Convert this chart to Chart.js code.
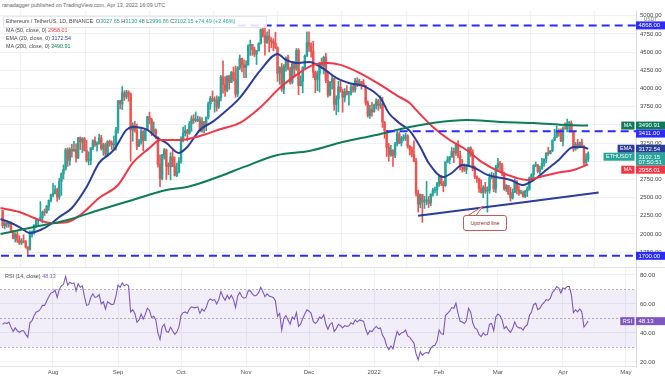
<!DOCTYPE html>
<html>
<head>
<meta charset="utf-8">
<script src="https://cdn.jsdelivr.net/npm/chart.js@4.4.0/dist/chart.umd.min.js"></script>
<style>
    body { margin: 0; background: #fff; }
    #wrap { position: relative; width: 665px; height: 378px; overflow: hidden; background: #fff;
            font-family: 'Liberation Sans', Arial, sans-serif; }
    #price-chart { position: absolute; left: 0; top: 11px; }
    #rsi-chart { position: absolute; left: 0; top: 268px; }
    .txt { position: absolute; white-space: nowrap; font-size: 5.4px; line-height: 7px; color: #4a4a4a; }
    .sep { position: absolute; left: 0; width: 665px; height: 1px; background: #e0e3eb; }
    #head-box { position: absolute; left: 3px; top: 16px; width: 262px; height: 10px; border: 1px solid #e6e8ee; background: rgba(255,255,255,0.85); }
    #callout { position: absolute; left: 463px; top: 215px; width: 42px; height: 14px; border: 1px solid #c25b57;
               border-radius: 3px; background: #fff; color: #8c2d2a; font-size: 5.4px; line-height: 14px; text-align: center; }
    #tail { position: absolute; left: 0; top: 0; }
</style>
</head>
<body>
<div id="wrap">
    <canvas id="price-chart" width="665" height="257"></canvas>
    <canvas id="rsi-chart" width="665" height="110"></canvas>
    <div class="sep" style="top:267px"></div>

    <div class="txt" style="left:2px;top:2px;color:#666">ranadagger published on TradingView.com, Apr 13, 2022 16:09 UTC</div>
    <div id="head-box"></div>
    <div class="txt" style="left:6px;top:18px">Ethereum / TetherUS, 1D, BINANCE&nbsp;
        O<span style="color:#26a69a">3027.65</span> H<span style="color:#26a69a">3130.48</span>
        L<span style="color:#26a69a">2996.86</span> C<span style="color:#26a69a">3102.15 +74.49 (+2.46%)</span></div>
    <div class="txt" style="left:6px;top:26.5px">MA (50, close, 0) <span style="color:#f23645">2958.01</span></div>
    <div class="txt" style="left:6px;top:34.5px">EMA (20, close, 0) <span style="color:#2a3d99">3172.54</span></div>
    <div class="txt" style="left:6px;top:42.5px">MA (200, close, 0) <span style="color:#0e7c5a">3490.91</span></div>
    <div class="txt" style="left:5px;top:272.5px">RSI (14, close) <span style="color:#7e57c2">48.13</span></div>

    <svg id="tail" width="665" height="378">
        <path d="M468 215.5 L483 206 L476 215.5" fill="#fff" stroke="#c25b57" stroke-width="1"/>
    </svg>
    <div id="callout">Uptrend line</div>
</div>
<script>
// daily candles, first one on startDate
const startDate = '2021-07-08';
const opens = [
    // Jul
    2322, 2114, 2148, 2137, 2156, 2040, 1941, 1994, 1916, 1876, 1897, 1894, 1820, 1787, 1994, 2025, 2124, 2188, 2190, 2232, 2300, 2298, 2381, 2462,
    // Aug
    2535, 2556, 2608, 2508, 2725, 2827, 2890, 3157, 3012, 3163, 3141, 3164, 3047, 3322, 3266, 3310, 3150, 3013, 3016, 3184, 3285, 3225, 3244, 3322, 3174, 3225, 3100, 3270, 3245, 3225, 3232,
    // Sep
    3430, 3830, 3788, 3938, 3887, 3950, 3925, 3430, 3496, 3425, 3210, 3265, 3408, 3285, 3430, 3610, 3570, 3397, 3432, 3330, 2960, 2760, 3078, 3155, 2930, 2925, 3062, 2935, 2807, 2850,
    // Oct
    3000, 3308, 3390, 3418, 3385, 3518, 3585, 3560, 3562, 3575, 3415, 3545, 3490, 3605, 3790, 3865, 3830, 3845, 3745, 3875, 4155, 4055, 3975, 4170, 4085, 4220, 4130, 3925, 4285, 4415, 4325,
    // Nov
    4290, 4325, 4590, 4605, 4535, 4475, 4520, 4620, 4810, 4730, 4630, 4720, 4665, 4645, 4625, 4560, 4210, 4290, 3990, 4300, 4420, 4270, 4085, 4340, 4270, 4525, 4040, 4100, 4295, 4445,
    // Dec
    4630, 4585, 4510, 4225, 4120, 4200, 4350, 4310, 4430, 4110, 3910, 4085, 4135, 3780, 3860, 4020, 3960, 3880, 3960, 3925, 3940, 4020, 3980, 4110, 4045, 4095, 4065, 4040, 3800, 3630, 3710,
    // Jan
    3680, 3770, 3830, 3765, 3790, 3540, 3420, 3195, 3085, 3150, 3080, 3240, 3375, 3250, 3310, 3330, 3350, 3210, 3165, 3095, 3000, 2560, 2410, 2540, 2440, 2460, 2465, 2425, 2545, 2600, 2605,
    // Feb
    2690, 2795, 2690, 2665, 2990, 3020, 3060, 3135, 3120, 3240, 3075, 2930, 2915, 2880, 2935, 3185, 3125, 2890, 2785, 2760, 2625, 2570, 2640, 2590, 2600, 2775, 2780, 2620,
    // Mar
    2920, 2970, 2950, 2835, 2620, 2665, 2555, 2495, 2575, 2730, 2605, 2560, 2570, 2515, 2590, 2620, 2770, 2815, 2945, 2950, 2860, 2895, 2970, 3030, 3110, 3105, 3145, 3290, 3330, 3400, 3385,
    // Apr
    3280, 3455, 3445, 3520, 3522, 3410, 3170, 3235, 3190, 3260, 3210, 2980, 3027.65
];
const highs = [
    2324, 2185, 2188, 2160, 2166, 2050, 2018, 2030, 1974, 1938, 1990, 1911, 1827, 2044, 2044, 2130, 2215, 2199, 2446, 2317, 2345, 2395, 2468, 2550,
    2698, 2665, 2630, 2764, 2840, 2950, 3177, 3185, 3185, 3232, 3275, 3238, 3330, 3334, 3325, 3328, 3288, 3130, 3188, 3293, 3335, 3268, 3373, 3357, 3248, 3250, 3285, 3290, 3280, 3345, 3465,
    3838, 3840, 4027, 3970, 3975, 3970, 3940, 3530, 3550, 3510, 3300, 3450, 3423, 3440, 3620, 3675, 3590, 3540, 3445, 3340, 3090, 3095, 3175, 3170, 2980, 3118, 3150, 3060, 2975, 3050,
    3340, 3470, 3492, 3440, 3547, 3625, 3640, 3678, 3620, 3612, 3600, 3550, 3610, 3815, 3895, 3965, 3885, 3900, 3890, 4180, 4380, 4165, 4175, 4185, 4235, 4295, 4310, 4300, 4460, 4420, 4395,
    4380, 4600, 4665, 4610, 4570, 4525, 4630, 4820, 4840, 4868, 4780, 4810, 4700, 4685, 4775, 4575, 4300, 4345, 4330, 4435, 4460, 4295, 4375, 4370, 4550, 4550, 4175, 4300, 4465, 4780,
    4778, 4630, 4650, 4240, 4240, 4355, 4420, 4445, 4485, 4230, 4100, 4175, 4140, 3900, 4100, 4100, 3990, 4000, 4040, 3960, 4050, 4050, 4140, 4150, 4130, 4100, 4125, 4045, 3830, 3770, 3810,
    3785, 3860, 3850, 3900, 3880, 3545, 3425, 3245, 3220, 3160, 3260, 3415, 3400, 3345, 3365, 3385, 3365, 3215, 3200, 3280, 3040, 2605, 2550, 2545, 2520, 2725, 2515, 2555, 2630, 2645, 2710,
    2815, 2805, 2725, 2995, 3065, 3065, 3190, 3180, 3250, 3285, 3140, 3025, 2965, 2955, 3190, 3200, 3160, 2935, 2800, 2770, 2745, 2665, 2710, 2650, 2830, 2850, 2835, 2945,
    3040, 3000, 2970, 2850, 2680, 2670, 2640, 2620, 2760, 2730, 2665, 2605, 2595, 2600, 2650, 2785, 2830, 2950, 2990, 2955, 2935, 3040, 3035, 3120, 3195, 3150, 3295, 3440, 3485, 3445, 3445,
    3475, 3530, 3580, 3550, 3555, 3415, 3260, 3300, 3265, 3305, 3215, 3105, 3130.48
];
const lows = [
    2086, 2071, 2091, 2095, 2020, 1934, 1890, 1883, 1857, 1854, 1878, 1804, 1718, 1777, 1955, 1998, 2092, 2120, 2180, 2154, 2255, 2285, 2325, 2440,
    2510, 2551, 2450, 2475, 2530, 2756, 2878, 2930, 2945, 3055, 3135, 2987, 3035, 3160, 3120, 3140, 2990, 2950, 2952, 3160, 3205, 3138, 3234, 3152, 3082, 3065, 3060, 3205, 3160, 3167, 3152,
    3385, 3720, 3710, 3835, 3860, 3825, 3000, 3275, 3400, 3160, 3202, 3234, 3145, 3280, 3420, 3515, 3352, 3366, 3310, 2920, 2650, 2742, 3030, 2750, 2815, 2743, 2926, 2795, 2788, 2840,
    2975, 3265, 3346, 3280, 3370, 3412, 3520, 3540, 3545, 3405, 3400, 3385, 3420, 3580, 3715, 3820, 3675, 3690, 3725, 3830, 3935, 3890, 3955, 3990, 4080, 4105, 3880, 3890, 4260, 4230, 4150,
    4150, 4320, 4455, 4455, 4440, 4330, 4515, 4610, 4705, 4460, 4620, 4505, 4560, 4520, 4550, 4100, 4060, 3960, 3930, 4240, 4255, 4060, 4065, 4160, 4250, 3915, 4035, 3940, 4280, 4440,
    4510, 4430, 4150, 3940, 3970, 3950, 4270, 4200, 4080, 3880, 3900, 3990, 3700, 3640, 3680, 3950, 3675, 3815, 3910, 3770, 3910, 3950, 3950, 4025, 4035, 3990, 4030, 3770, 3605, 3590, 3620,
    3676, 3720, 3700, 3725, 3465, 3315, 3065, 3000, 3065, 2930, 3050, 3210, 3240, 3210, 3280, 3285, 3180, 3085, 3060, 2995, 2520, 2300, 2360, 2160, 2350, 2400, 2360, 2390, 2520, 2565, 2530,
    2655, 2665, 2580, 2655, 2980, 2965, 3050, 2980, 3080, 3050, 2880, 2850, 2860, 2830, 2930, 3065, 2870, 2760, 2710, 2570, 2560, 2500, 2560, 2300, 2560, 2760, 2580, 2570,
    2860, 2870, 2800, 2600, 2585, 2540, 2450, 2480, 2570, 2550, 2530, 2550, 2505, 2500, 2515, 2600, 2760, 2730, 2925, 2840, 2830, 2890, 2930, 2980, 3080, 3100, 3130, 3285, 3330, 3345, 3270,
    3210, 3440, 3405, 3400, 3400, 3135, 3150, 3170, 3185, 3195, 2950, 2955, 2996.86
];
const closes = [
    2114, 2148, 2137, 2156, 2040, 1941, 1994, 1916, 1876, 1897, 1894, 1820, 1787, 1994, 2025, 2124, 2188, 2190, 2232, 2300, 2298, 2381, 2462, 2535,
    2556, 2608, 2508, 2725, 2827, 2890, 3157, 3012, 3163, 3141, 3164, 3047, 3322, 3266, 3310, 3150, 3013, 3016, 3184, 3285, 3225, 3244, 3322, 3174, 3225, 3100, 3270, 3245, 3225, 3232, 3430,
    3830, 3788, 3938, 3887, 3950, 3925, 3430, 3496, 3425, 3210, 3265, 3408, 3285, 3430, 3610, 3570, 3397, 3432, 3330, 2960, 2760, 3078, 3155, 2930, 2925, 3062, 2935, 2807, 2850, 3000,
    3308, 3390, 3418, 3385, 3518, 3585, 3560, 3562, 3575, 3415, 3545, 3490, 3605, 3790, 3865, 3830, 3845, 3745, 3875, 4155, 4055, 3975, 4170, 4085, 4220, 4130, 3925, 4285, 4415, 4325, 4290,
    4325, 4590, 4605, 4535, 4475, 4520, 4620, 4810, 4730, 4630, 4720, 4665, 4645, 4625, 4560, 4210, 4290, 3990, 4300, 4420, 4270, 4085, 4340, 4270, 4525, 4040, 4100, 4295, 4445, 4630,
    4585, 4510, 4225, 4120, 4200, 4350, 4310, 4430, 4110, 3910, 4085, 4135, 3780, 3860, 4020, 3960, 3880, 3960, 3925, 3940, 4020, 3980, 4110, 4045, 4095, 4065, 4040, 3800, 3630, 3710, 3680,
    3770, 3830, 3765, 3790, 3540, 3420, 3195, 3085, 3150, 3080, 3240, 3375, 3250, 3310, 3330, 3350, 3210, 3165, 3095, 3000, 2560, 2410, 2540, 2440, 2460, 2465, 2425, 2545, 2600, 2605, 2690,
    2795, 2690, 2665, 2990, 3020, 3060, 3135, 3120, 3240, 3075, 2930, 2915, 2880, 2935, 3185, 3125, 2890, 2785, 2760, 2625, 2570, 2640, 2590, 2600, 2775, 2780, 2620, 2920,
    2970, 2950, 2835, 2620, 2665, 2555, 2495, 2575, 2730, 2605, 2560, 2570, 2515, 2590, 2620, 2770, 2815, 2945, 2950, 2860, 2895, 2970, 3030, 3110, 3105, 3145, 3290, 3330, 3400, 3385, 3280,
    3455, 3445, 3520, 3522, 3410, 3170, 3235, 3190, 3260, 3210, 2980, 3028, 3102.15
];
const rsi = [
    46, 47, 46.5, 47.5, 44, 41, 43.5, 41.5, 40.5, 41.5, 41.5, 39, 37, 47, 48.5, 52, 54.5, 55, 56.5, 59, 59, 62, 65, 67.5,
    68, 69.5, 64.5, 70, 72.5, 73.5, 79, 73, 75, 74, 74.5, 69, 74, 71.5, 72.5, 65, 59, 59.5, 64.5, 67, 64.5, 65, 66.5, 60, 61.5, 56.5, 61.5, 60.5, 59.5, 60, 65.5,
    73, 71.5, 74.5, 72.5, 73.5, 72.5, 54.5, 56, 53.5, 47.5, 49, 53, 49.5, 53, 57, 55.5, 50.5, 51.5, 49, 40, 35.5, 44, 46, 41, 40.5, 44, 41.5, 39, 40.5, 44,
    52, 54, 54.5, 53.5, 56.5, 58, 57.5, 57.5, 58, 53.5, 56.5, 55, 57.5, 62, 63.5, 62.5, 63, 60, 63, 68.5, 65, 62.5, 66, 63.5, 66, 63, 57.5, 65.5, 68, 65, 64,
    64.5, 69, 69, 67, 65.5, 66, 68, 71.5, 68.5, 65, 67, 65.5, 65, 64.5, 62, 51.5, 53.5, 42, 50, 52, 49, 46, 51, 49.5, 54, 44.5, 46, 50, 53, 56,
    55, 53.5, 48, 46.5, 48, 51, 50, 52.5, 46, 42.5, 46, 47, 41, 43, 46, 45, 43.5, 45, 44.5, 45, 47, 46, 49, 47.5, 49, 48.5, 48, 42.5, 39, 41.5, 41,
    43, 44.5, 43, 43.5, 38.5, 36, 31, 28.5, 31, 29, 35.5, 41, 38.5, 40, 40.5, 42, 38, 37, 35, 33, 25.5, 21.5, 27, 24.5, 26, 26.5, 26, 29.5, 31, 31.5, 34.5,
    42, 39.5, 39, 52, 53.5, 55, 57.5, 57, 60.5, 53.5, 48, 47.5, 46.5, 48.5, 57, 54.5, 47, 43.5, 42.5, 39, 37.5, 40, 38.5, 39, 46, 46.5, 41.5, 51,
    53, 52, 49, 43, 44.5, 42, 40.5, 43, 47.5, 44.5, 43.5, 43.5, 42, 44.5, 45.5, 52, 54.5, 59.5, 60.5, 56, 57, 59.5, 61, 63, 62.5, 64, 68, 69.5, 72, 71, 67.5,
    71, 70.5, 72, 72, 66.5, 54, 56, 54.5, 56.5, 54.5, 44, 46, 48.13
];

// moving averages at sample dates
const ma200Dates = ['2021-07-07', '2021-07-23', '2021-08-08', '2021-08-23', '2021-09-08', '2021-09-24', '2021-10-04', '2021-10-20', '2021-10-31', '2021-11-16',
    '2021-12-01', '2021-12-17', '2022-01-02', '2022-01-18', '2022-01-29', '2022-02-14', '2022-03-02', '2022-03-18', '2022-04-03', '2022-04-13'];
const ma200Values = [2000, 2096, 2193, 2330, 2468, 2605, 2646, 2798, 2922, 3087, 3142, 3265, 3362, 3472, 3527, 3568, 3541, 3527, 3499, 3490.91];

const ma50Dates = ['2021-07-07', '2021-07-16', '2021-07-23', '2021-07-31', '2021-08-08', '2021-08-14', '2021-08-23', '2021-09-01', '2021-09-08', '2021-09-16',
    '2021-09-21', '2021-10-01', '2021-10-10', '2021-10-20', '2021-10-29', '2021-11-08', '2021-11-17', '2021-11-25', '2021-12-03', '2021-12-10',
    '2021-12-16', '2021-12-25', '2022-01-04', '2022-01-13', '2022-01-18', '2022-01-21', '2022-01-29', '2022-02-06', '2022-02-14', '2022-02-22',
    '2022-03-02', '2022-03-10', '2022-03-15', '2022-03-21', '2022-03-29', '2022-04-06', '2022-04-13'];
const ma50Values = [2358, 2303, 2220, 2151, 2165, 2261, 2495, 2674, 2977, 3183, 3293, 3293, 3348, 3444, 3527, 3747, 4008, 4187, 4325, 4352,
    4325, 4215, 4050, 3884, 3802, 3706, 3472, 3293, 3155, 2977, 2853, 2770, 2743, 2784, 2839, 2880, 2958.01];

const ema20Dates = ['2021-07-07', '2021-07-11', '2021-07-16', '2021-07-21', '2021-07-26', '2021-07-31', '2021-08-04', '2021-08-10', '2021-08-17', '2021-08-23',
    '2021-08-30', '2021-09-05', '2021-09-08', '2021-09-15', '2021-09-19', '2021-09-24', '2021-09-30', '2021-10-04', '2021-10-10', '2021-10-16',
    '2021-10-19', '2021-10-29', '2021-11-08', '2021-11-16', '2021-11-20', '2021-11-25', '2021-12-01', '2021-12-08', '2021-12-14', '2021-12-20',
    '2021-12-28', '2022-01-04', '2022-01-08', '2022-01-13', '2022-01-18', '2022-01-23', '2022-01-27', '2022-02-03', '2022-02-07', '2022-02-12',
    '2022-02-17', '2022-02-24', '2022-02-28', '2022-03-07', '2022-03-13', '2022-03-18', '2022-03-24', '2022-03-30', '2022-04-06', '2022-04-10', '2022-04-13'];
const ema20Values = [2206, 2165, 2096, 2014, 2055, 2138, 2234, 2358, 2646, 2977, 3155, 3431, 3472, 3431, 3334, 3252, 3114, 3197, 3431, 3541,
    3609, 3871, 4256, 4476, 4393, 4352, 4366, 4270, 4146, 4077, 4022, 3871, 3664, 3527, 3417, 3197, 2977, 2784, 2839, 2949,
    2922, 2812, 2784, 2743, 2674, 2743, 2880, 3018, 3197, 3197, 3172.54];

// horizontal levels and the uptrend line
const levelValues = [4868, 3411, 1700];
const levelStarts = ['2021-10-28', '2022-01-07', '2021-07-01'];
const trendDates = ['2022-01-22', '2022-04-18'];
const trendValues = [2250, 2570];

// axis ticks
const priceTicks = [1750, 2000, 2250, 2500, 2750, 3000, 3250, 3500, 3750, 4000, 4250, 4500, 4750, 5000];
const rsiTicks = [20, 40, 60, 80];
const monthStarts = ['2021-08-01', '2021-09-01', '2021-10-01', '2021-11-01', '2021-12-01', '2022-01-01', '2022-02-01', '2022-03-01', '2022-04-01', '2022-05-01'];
const monthLabels = ['Aug', 'Sep', 'Oct', 'Nov', 'Dec', '2022', 'Feb', 'Mar', 'Apr', 'May'];

const countdown = '07:50:51';

const upColor = '#26a69a';
const downColor = '#ef5350';
const ma50Color = '#f23645';
const emaColor = '#2a3d99';
const ma200Color = '#0e7c5a';
const levelColor = '#2b2bff';
const rsiColor = '#7e57c2';
const gridColor = '#eef0f4';
const FONT = "'Liberation Sans', Arial, sans-serif";

const DAY0 = Date.UTC(2021, 6, 1);
function dayNum(s) {
    const p = s.split('-');
    return (Date.UTC(+p[0], +p[1] - 1, +p[2]) - DAY0) / 86400000;
}
const firstDay = dayNum(startDate);
const candleDays = closes.map((c, i) => firstDay + i);
const candleColors = closes.map((c, i) => (c >= opens[i] ? upColor : downColor));
const monthDays = monthStarts.map(dayNum);

const X_MIN = 5.75;
const X_MAX = 308.8;

function points(dates, values) {
    return dates.map((d, i) => ({ x: dayNum(d), y: values[i] }));
}

function xScale(showLabels) {
    return {
        type: 'linear',
        min: X_MIN,
        max: X_MAX,
        offset: false,
        afterBuildTicks: (s) => { s.ticks = monthDays.map((v) => ({ value: v })); },
        afterFit: (s) => {
            s.height = showLabels ? 12 : 0;
            s.paddingLeft = 0; s.paddingRight = 0;
        },
        grid: { color: gridColor, drawTicks: false },
        border: { display: showLabels, color: '#e0e3eb' },
        ticks: {
            display: showLabels,
            autoSkip: false,
            maxRotation: 0,
            padding: 3,
            color: '#555',
            font: { size: 6, family: FONT },
            callback: (v) => monthLabels[monthDays.indexOf(v)] || '',
        },
    };
}

function yScale(min, max, ticks) {
    return {
        position: 'right',
        min: min,
        max: max,
        afterBuildTicks: (s) => { s.ticks = ticks.map((v) => ({ value: v })); },
        afterFit: (s) => {
            s.width = 29;
            s.paddingTop = 0; s.paddingBottom = 0;
        },
        grid: { color: gridColor, drawTicks: false },
        border: { color: '#d6d9e0' },
        ticks: {
            padding: 4,
            color: '#444',
            font: { size: 6, family: FONT },
            callback: (v) => v.toFixed(2),
        },
    };
}

function drawBox(ctx, x, top, w, h, bg, lines) {
    ctx.fillStyle = bg;
    ctx.fillRect(x, top, w, h);
    ctx.fillStyle = '#fff';
    ctx.font = '6px ' + FONT;
    ctx.textBaseline = 'middle';
    ctx.textAlign = 'left';
    lines.forEach((t, i) => ctx.fillText(t, x + 2.5, top + 4.2 + i * 5.2));
}

function drawTag(ctx, right, top, h, bg, text) {
    ctx.font = '5.5px ' + FONT;
    const w = ctx.measureText(text).width + 5;
    ctx.fillStyle = bg;
    ctx.fillRect(right - w, top, w, h);
    ctx.fillStyle = '#fff';
    ctx.textBaseline = 'middle';
    ctx.textAlign = 'left';
    ctx.fillText(text, right - w + 2.5, top + 4.2);
}

const priceTags = {
    id: 'priceTags',
    afterDraw(chart) {
        const { ctx, chartArea, scales: { y } } = chart;
        const x0 = chartArea.right;
        const w = chart.width - x0;
        ctx.save();
        // levels at the top and bottom
        [levelValues[0], levelValues[2]].forEach((v) => {
            drawBox(ctx, x0, y.getPixelForValue(v) - 4, w, 8, levelColor, [v.toFixed(2)]);
        });
        ctx.fillStyle = '#777';
        ctx.font = '5px ' + FONT;
        ctx.textAlign = 'center';
        ctx.fillText('USDT', x0 + w / 2, y.getPixelForValue(levelValues[0]) - 6);

        const stack = [
            { v: ma200Values[ma200Values.length - 1], tag: 'MA', bg: ma200Color },
            { v: levelValues[1], tag: null, bg: levelColor },
            { v: ema20Values[ema20Values.length - 1], tag: 'EMA', bg: emaColor },
            { v: closes[closes.length - 1], tag: 'ETHUSDT', bg: upColor, extra: countdown },
            { v: ma50Values[ma50Values.length - 1], tag: 'MA', bg: ma50Color },
        ];
        let prevBottom = -Infinity;
        stack.forEach((t) => {
            const h = t.extra ? 13 : 8;
            let top = y.getPixelForValue(t.v) - 4;
            if (top < prevBottom) top = prevBottom;
            prevBottom = top + h;
            const lines = [t.v.toFixed(2)];
            if (t.extra) lines.push(t.extra);
            drawBox(ctx, x0, top, w, h, t.bg, lines);
            if (t.tag) drawTag(ctx, x0 - 1.5, top, 8, t.bg, t.tag);
        });
        ctx.restore();
    },
};

const rsiDecor = {
    id: 'rsiDecor',
    beforeDatasetsDraw(chart) {
        const { ctx, chartArea, scales: { y } } = chart;
        ctx.save();
        ctx.fillStyle = 'rgba(126, 87, 194, 0.1)';
        const y70 = y.getPixelForValue(70);
        const y30 = y.getPixelForValue(30);
        ctx.fillRect(chartArea.left, y70, chartArea.right - chartArea.left, y30 - y70);
        ctx.strokeStyle = 'rgba(120, 123, 134, 0.55)';
        ctx.lineWidth = 1;
        ctx.setLineDash([2, 2]);
        [70, 50, 30].forEach((v) => {
            const py = Math.round(y.getPixelForValue(v)) + 0.5;
            ctx.beginPath();
            ctx.moveTo(chartArea.left, py);
            ctx.lineTo(chartArea.right, py);
            ctx.stroke();
        });
        ctx.restore();
    },
    afterDraw(chart) {
        const { ctx, chartArea, scales: { y } } = chart;
        const last = rsi[rsi.length - 1];
        const x0 = chartArea.right;
        const top = y.getPixelForValue(last) - 4;
        ctx.save();
        drawBox(ctx, x0, top, chart.width - x0, 8, rsiColor, [last.toFixed(2)]);
        drawTag(ctx, x0 - 1.5, top, 8, rsiColor, 'RSI');
        ctx.restore();
    },
};

function lineSet(data, color, width) {
    return {
        type: 'line',
        data: data,
        borderColor: color,
        borderWidth: width,
        pointRadius: 0,
        cubicInterpolationMode: 'monotone',
        order: 1,
    };
}

document.addEventListener('DOMContentLoaded', function () {
    const levelSets = levelValues.map((v, i) => ({
        type: 'line',
        data: [{ x: dayNum(levelStarts[i]), y: v }, { x: X_MAX + 5, y: v }],
        borderColor: levelColor,
        borderWidth: 2,
        borderDash: [8, 5],
        pointRadius: 0,
        order: 0,
    }));

    let price_chart = document.getElementById('price-chart').getContext('2d');
    new Chart(price_chart, {
        type: 'bar',
        data: {
            datasets: [
                {
                    data: candleDays.map((d, i) => ({ x: d, y: [lows[i], highs[i]] })),
                    backgroundColor: candleColors,
                    barThickness: 1,
                    grouped: false,
                    order: 3,
                },
                {
                    data: candleDays.map((d, i) => ({ x: d, y: [opens[i], closes[i]] })),
                    backgroundColor: candleColors,
                    barThickness: 1.8,
                    minBarLength: 1,
                    grouped: false,
                    order: 2,
                },
                lineSet(points(ma200Dates, ma200Values), ma200Color, 2),
                lineSet(points(ma50Dates, ma50Values), ma50Color, 2),
                lineSet(points(ema20Dates, ema20Values), emaColor, 2),
                lineSet(points(trendDates, trendValues), emaColor, 2),
                ...levelSets,
            ],
        },
        options: {
            responsive: false,
            animation: false,
            events: [],
            layout: { padding: 0 },
            plugins: { legend: { display: false }, tooltip: { enabled: false } },
            scales: {
                x: xScale(false),
                y: yScale(1532.5, 5066, priceTicks),
            },
        },
        plugins: [priceTags],
    });

    let rsi_chart = document.getElementById('rsi-chart').getContext('2d');
    new Chart(rsi_chart, {
        type: 'line',
        data: {
            datasets: [
                {
                    data: candleDays.map((d, i) => ({ x: d, y: rsi[i] })),
                    borderColor: rsiColor,
                    borderWidth: 1.1,
                    pointRadius: 0,
                    tension: 0,
                },
            ],
        },
        options: {
            responsive: false,
            animation: false,
            events: [],
            layout: { padding: 0 },
            plugins: { legend: { display: false }, tooltip: { enabled: false } },
            scales: {
                x: xScale(true),
                y: yScale(17.2, 84.8, rsiTicks),
            },
        },
        plugins: [rsiDecor],
    });
});
</script>
</body>
</html>
